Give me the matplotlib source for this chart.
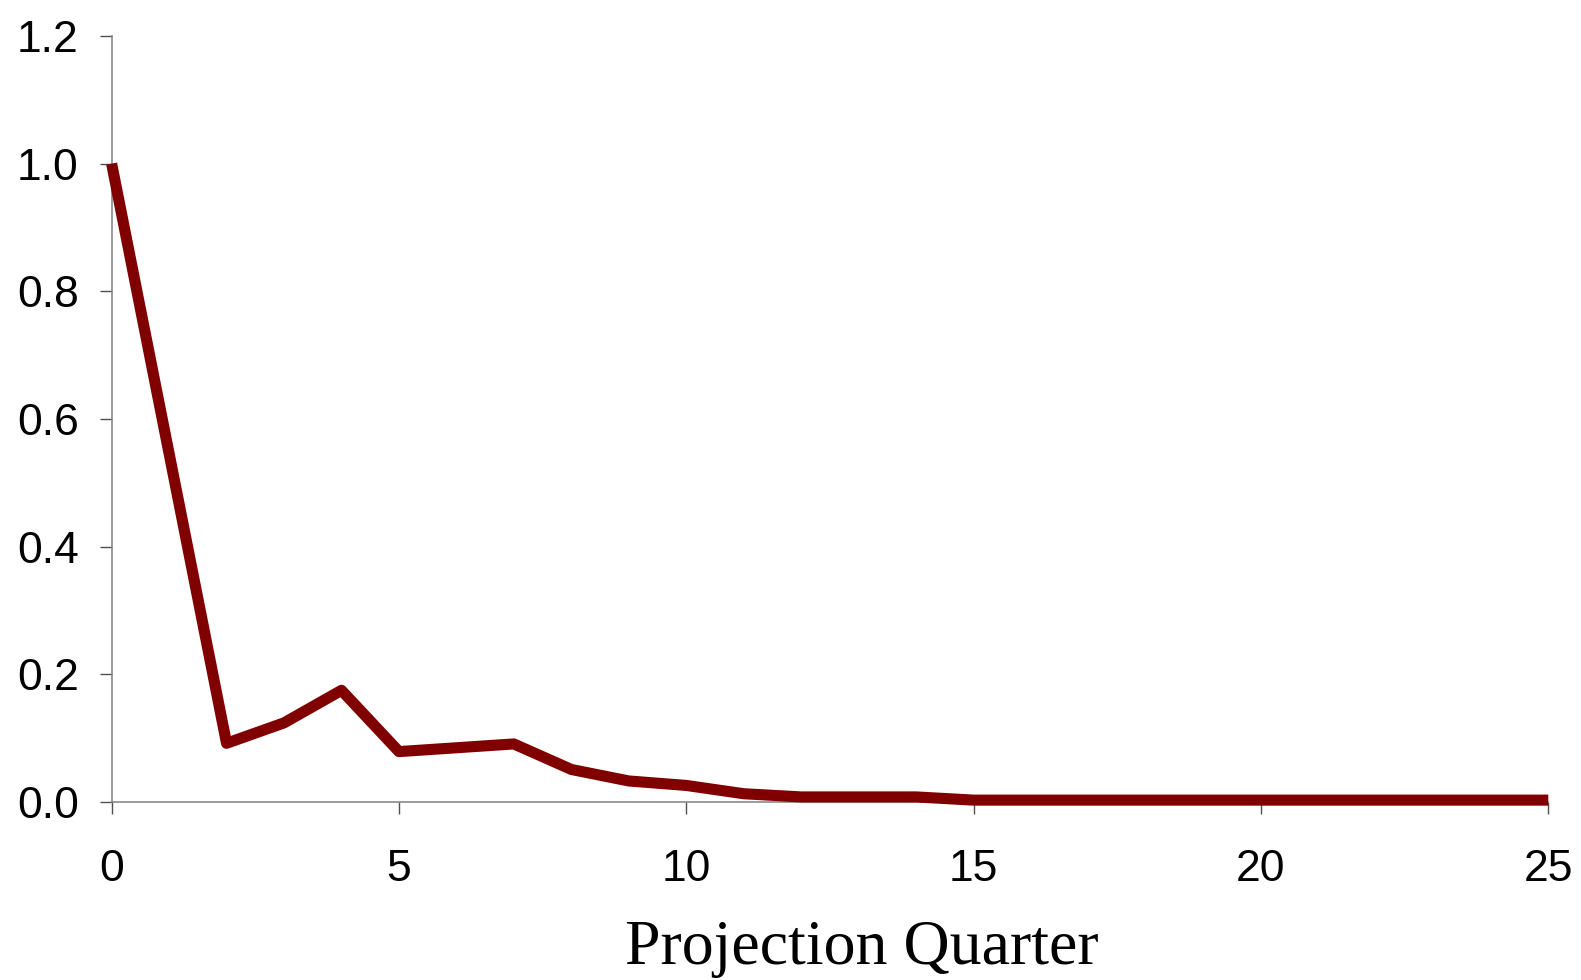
import numpy as np
import matplotlib.pyplot as plt

# Projection quarter and response values
quarters = list(range(26))
values = [1.0, 0.546, 0.092, 0.124, 0.175, 0.079, 0.085, 0.091, 0.051, 0.033,
          0.026, 0.013, 0.008, 0.008, 0.008, 0.003, 0.003, 0.003, 0.003, 0.003,
          0.003, 0.003, 0.003, 0.003, 0.003, 0.003]

x_ticks = [0, 5, 10, 15, 20, 25]
y_ticks = [0.0, 0.2, 0.4, 0.6, 0.8, 1.0, 1.2]

fig = plt.figure(figsize=(15.81, 9.8), dpi=100)
ax = fig.add_axes([0.0706, 0.1816, 0.9087, 0.7817])

ax.plot(quarters, values, color='#800000', linewidth=8,
        solid_joinstyle='round', solid_capstyle='butt', clip_on=False, zorder=3)

ax.set_xlim(0, 25)
ax.set_ylim(0, 1.2)
ax.set_xticks(x_ticks)
ax.set_yticks(y_ticks)
ax.set_yticklabels(['{:.1f}'.format(v) for v in y_ticks])

for side in ['top', 'right']:
    ax.spines[side].set_visible(False)
for side in ['left', 'bottom']:
    ax.spines[side].set_color('#808080')
    ax.spines[side].set_linewidth(1.1)

ax.tick_params(axis='both', which='major', direction='out', length=8.6, width=1.0,
               color='#505050', labelsize=32, labelcolor='black')
ax.tick_params(axis='x', which='major', pad=25)
ax.tick_params(axis='y', which='major', pad=15)
for lab in ax.get_xticklabels() + ax.get_yticklabels():
    lab.set_fontname('Liberation Sans')

ax.set_xlabel('Projection Quarter', fontsize=46, fontname='Liberation Serif')
ax.xaxis.set_label_coords(0.522, -0.154)

fig.savefig('out.png', dpi=100)
